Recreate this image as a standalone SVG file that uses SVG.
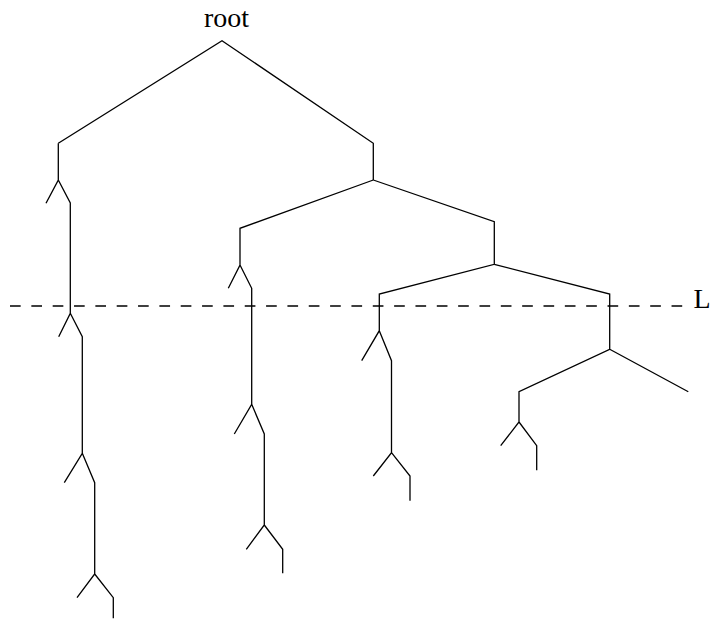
<svg xmlns="http://www.w3.org/2000/svg" width="710" height="619" viewBox="0 0 710 619">
  <style>
    .edge { fill: none; stroke: #000; stroke-width: 1.3; stroke-linejoin: miter; stroke-linecap: butt; }
    .dash { fill: none; stroke: #000; stroke-width: 1.3; stroke-dasharray: 10.67 10.67; }
    .lbl { font-family: "Liberation Serif", "Times New Roman", serif; fill: #000; font-size: 28px; }
  </style>
  <rect width="710" height="619" fill="#fff"/>
  <g id="root">
    <text class="lbl" x="226.5" y="27" text-anchor="middle">root</text>
  </g>
  <g id="line-L">
    <line class="dash" x1="10" y1="306" x2="682.3" y2="306"/>
    <text class="lbl" x="693.5" y="307.5">L</text>
  </g>
  <g id="connectors">
    <path class="edge" d="M58.3,143.3 L222,40.7 L373.3,143.3 V180"/>
    <path class="edge" d="M58.3,143.3 V180 L46,203.3 M58.3,180 L70.3,203 V313.3 L58.7,336.7 M70.3,313.3 L82.3,336.7 V453.3 L64.3,482.7 M82.3,453.3 L94.7,482.7 V574 L77,597.7 M94.7,574 L113.3,597.7 V618.3"/>
    <path class="edge" d="M373.3,180 L240,228.3 V265 L228.3,288.3 M240,265 L251.7,288.3 V404.3 L234.3,434 M251.7,404.3 L264.3,434 V525 L246.3,549.3 M264.3,525 L282.7,549.3 V573.3"/>
    <path class="edge" d="M373.3,180 L494.3,221.7 V264.3 L379.3,294 V330.7 L361.7,360.7 M379.3,330.7 L391.5,360.7 V452.7 L373.3,476 M391.5,452.7 L410,476 V500.7"/>
    <path class="edge" d="M494.3,264.3 L609.7,294 V349.3 L519,391.7 V422 L500.7,445.7 M519,422 L536.7,445.7 V470.3 M609.7,349.3 L688.3,391.7"/>
  </g>
</svg>
